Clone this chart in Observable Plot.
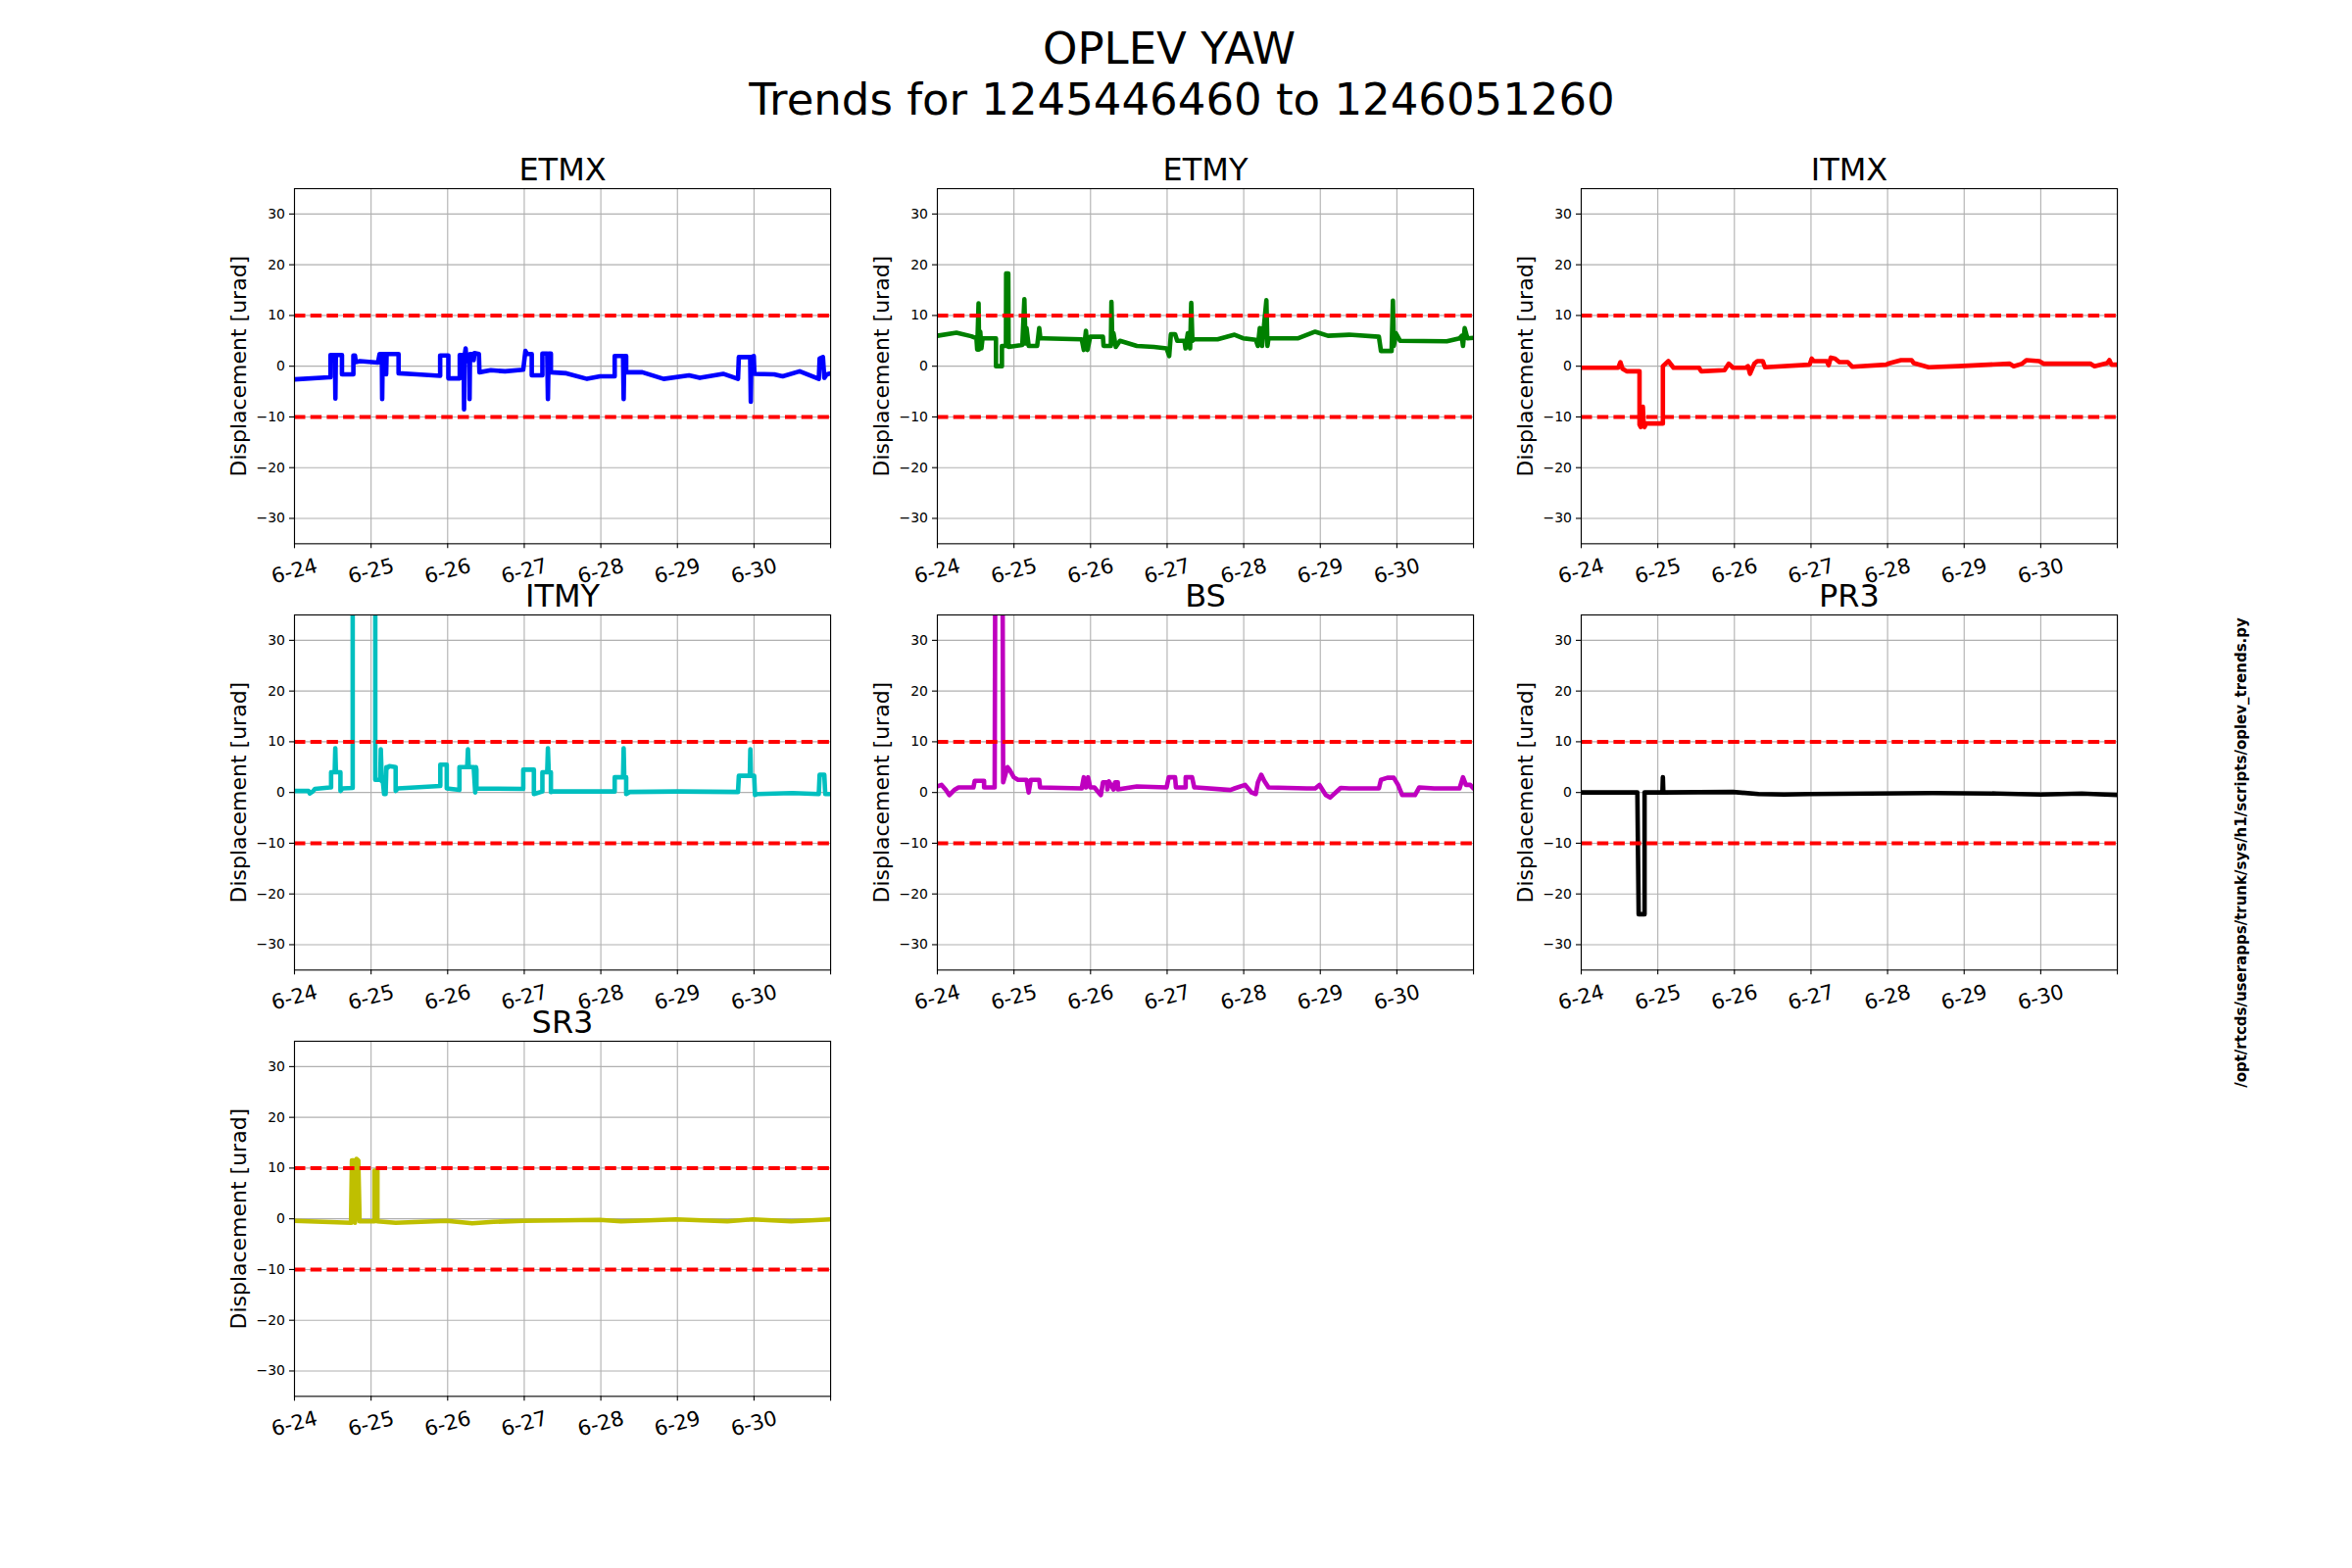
<!DOCTYPE html>
<html>
<head>
<meta charset="utf-8">
<script src="https://cdn.jsdelivr.net/npm/d3@7"></script>
<script src="https://cdn.jsdelivr.net/npm/@observablehq/plot@0.6"></script>
<style>
  html, body { margin: 0; padding: 0; background: #ffffff; }
  #fig { position: relative; width: 2400px; height: 1600px; background: #ffffff; font-family: "DejaVu Sans", sans-serif; overflow: hidden; }
  #fig > svg { position: absolute; }
  #side { position: absolute; white-space: nowrap; font-family: "DejaVu Sans", sans-serif; font-weight: bold; font-size: 15px; transform: translate(-50%, -50%) rotate(-90deg); }
</style>
</head>
<body>
<div id="fig"></div>
<script>
// ---------------- data ----------------
const supTitle = ["OPLEV YAW", "Trends for 1245446460 to 1246051260"];
const scriptPath = "/opt/rtcds/userapps/trunk/sys/h1/scripts/oplev_trends.py";
const yLabel = "Displacement [urad]";
const channels = ["ETMX", "ETMY", "ITMX", "ITMY", "BS", "PR3", "SR3"];
const xTicks = [0, 1, 2, 3, 4, 5, 6, 7];            // days from start
const xTickLabels = ["6-24", "6-25", "6-26", "6-27", "6-28", "6-29", "6-30", ""];
const yTicks = [-30, -20, -10, 0, 10, 20, 30];
const yDomain = [-35, 35];
const limits = [10, -10];

// [day, urad]
const etmx = [[0,-2.6],[0.449,-2.2],[0.47,-2.2],[0.47,2.2],[0.528,2.2],[0.534,-6.4],[0.54,2.2],[0.62,2.2],[0.62,-1.6],[0.769,-1.6],[0.769,2.1],[0.79,2.1],[0.8,0.8],[0.855,1.0],[1.09,0.7],[1.111,2.4],[1.14,2.4],[1.145,-6.5],[1.152,2.4],[1.19,2.4],[1.197,-1.6],[1.203,2.4],[1.359,2.4],[1.359,-1.4],[1.6,-1.6],[1.902,-1.9],[1.902,2.1],[2.009,2.1],[2.009,-2.4],[2.158,-2.4],[2.158,2.2],[2.21,2.2],[2.214,-8.5],[2.22,2.0],[2.235,3.5],[2.245,1.0],[2.25,2.0],[2.28,2.2],[2.286,-6.5],[2.292,2.4],[2.33,2.4],[2.34,1.2],[2.35,2.6],[2.408,2.4],[2.415,-1.2],[2.564,-0.8],[2.75,-1.0],[2.987,-0.7],[3.015,3.0],[3.04,2.4],[3.098,2.4],[3.098,-1.8],[3.237,-1.8],[3.237,2.5],[3.3,2.5],[3.309,-6.5],[3.318,2.5],[3.348,2.5],[3.348,-1.2],[3.55,-1.4],[3.82,-2.5],[3.99,-2.0],[4.181,-2.0],[4.181,2.0],[4.29,2.0],[4.298,-6.5],[4.306,2.0],[4.331,2.0],[4.331,-1.2],[4.542,-1.2],[4.82,-2.5],[5.153,-1.8],[5.292,-2.3],[5.597,-1.5],[5.791,-2.5],[5.802,1.8],[5.95,1.8],[5.958,-7.0],[5.966,1.8],[5.997,2.0],[6.005,-1.5],[6.263,-1.6],[6.374,-2.0],[6.596,-1.0],[6.846,-2.5],[6.857,1.5],[6.9,1.8],[6.918,-2.3],[6.95,-1.6],[7,-1.4]];
const etmy = [[0,6.0],[0.249,6.6],[0.443,5.9],[0.51,5.5],[0.52,3.3],[0.538,12.4],[0.545,3.3],[0.56,6.8],[0.575,3.5],[0.59,5.5],[0.765,5.5],[0.765,0],[0.843,0],[0.843,4],[0.895,4],[0.898,18.3],[0.926,18.3],[0.93,3.8],[1.109,4.2],[1.136,13.2],[1.15,4.5],[1.164,7.5],[1.192,4],[1.303,4],[1.33,7.5],[1.345,5.5],[1.386,5.5],[1.885,5.3],[1.912,3.2],[1.94,7],[1.96,3.2],[1.996,5.8],[2.162,5.8],[2.17,4],[2.265,4],[2.273,12.7],[2.285,4.5],[2.3,6.5],[2.33,3.8],[2.384,5],[2.605,4],[2.827,3.8],[2.993,3.5],[3.027,2],[3.049,6.3],[3.104,6.3],[3.132,5],[3.226,5],[3.24,3.5],[3.27,6.5],[3.3,3.5],[3.315,12.5],[3.33,5],[3.354,5.3],[3.659,5.3],[3.88,6.2],[3.991,5.5],[4.157,5.2],[4.185,4],[4.21,7.5],[4.24,4],[4.296,13],[4.31,4],[4.324,5.5],[4.712,5.5],[4.933,6.8],[5.1,6],[5.377,6.2],[5.765,5.8],[5.792,3],[5.931,3],[5.948,12.9],[5.96,4],[5.987,6.5],[6.043,5],[6.652,4.9],[6.818,5.5],[6.846,6],[6.863,4],[6.885,7.5],[6.92,5.5],[7,5.6]];
const itmx = [[0,-0.3],[0.483,-0.3],[0.511,0.8],[0.539,-0.5],[0.594,-1],[0.761,-1],[0.761,-11.5],[0.777,-12],[0.79,-11],[0.805,-8],[0.815,-11.5],[0.827,-12],[0.844,-11.3],[1.066,-11.3],[1.066,0],[1.138,1],[1.205,-0.3],[1.538,-0.3],[1.566,-1],[1.871,-0.8],[1.927,0.5],[1.982,-0.3],[2.149,-0.3],[2.177,0],[2.204,-1.5],[2.26,0.5],[2.3,1],[2.371,1],[2.399,-0.2],[2.982,0.3],[3.009,1.5],[3.037,1],[3.204,1],[3.231,0.2],[3.259,1.7],[3.315,1.5],[3.37,0.8],[3.481,0.8],[3.537,-0.1],[3.981,0.3],[4.009,0.5],[4.175,1.2],[4.314,1.2],[4.342,0.6],[4.536,-0.2],[4.925,0],[5.591,0.5],[5.647,0],[5.758,0.5],[5.813,1.2],[5.98,1],[6.035,0.5],[6.646,0.5],[6.702,0],[6.868,0.6],[6.896,1.2],[6.924,0.3],[7,0.3]];
const itmy = [[0,0.3],[0.183,0.3],[0.2,-0.2],[0.239,0.2],[0.267,0.7],[0.461,1.0],[0.478,1.0],[0.478,4.0],[0.525,4.0],[0.533,8.7],[0.541,4.0],[0.6,4.0],[0.6,0.3],[0.627,0.8],[0.76,0.9],[0.76,60],[1.055,60],[1.055,2.5],[1.12,2.5],[1.127,8.5],[1.14,2.2],[1.155,2],[1.17,-0.3],[1.19,-0.3],[1.2,5],[1.21,4.8],[1.238,5.2],[1.321,5],[1.321,0.3],[1.349,0.8],[1.904,1.3],[1.904,5.5],[1.988,5.5],[1.988,0.8],[2.154,0.5],[2.154,5.0],[2.255,5],[2.265,8.5],[2.275,5],[2.34,5],[2.36,0],[2.37,5],[2.376,4.5],[2.376,0.8],[2.987,0.7],[2.987,4.5],[3.126,4.5],[3.126,-0.3],[3.237,0.2],[3.237,4.0],[3.3,4],[3.309,8.7],[3.32,4],[3.348,4],[3.348,0.1],[3.376,0.2],[3.987,0.2],[4.181,0.2],[4.181,3.0],[4.29,3],[4.298,8.7],[4.306,3],[4.331,3],[4.331,-0.3],[4.375,0.1],[5.0,0.2],[5.791,0.1],[5.802,3.3],[5.945,3.3],[5.952,8.5],[5.96,3.3],[6.002,3.3],[6.013,-0.5],[6.041,-0.3],[6.5,-0.1],[6.846,-0.3],[6.857,3.5],[6.918,3.5],[6.93,-0.3],[7,-0.3]];
const bs = [[0,1.2],[0.055,1.5],[0.111,0.5],[0.155,-0.5],[0.222,0.5],[0.277,1.0],[0.471,1.0],[0.488,2.3],[0.61,2.3],[0.61,1.0],[0.748,1.0],[0.759,60],[0.848,60],[0.859,2.0],[0.915,5.0],[0.942,4.5],[0.998,3.0],[1.053,2.5],[1.164,2.5],[1.192,0],[1.22,2.5],[1.33,2.5],[1.341,1.0],[1.885,0.8],[1.912,3.0],[1.94,1.0],[1.968,3.0],[1.996,1.0],[2.051,1.0],[2.106,0],[2.134,-0.5],[2.162,2.0],[2.217,2.0],[2.22,0.6],[2.24,2.2],[2.3,0.6],[2.32,2],[2.356,2],[2.356,0.6],[2.605,1.2],[2.993,1.0],[3.021,3.0],[3.104,3.0],[3.115,1.0],[3.242,1.0],[3.242,3.0],[3.326,3.0],[3.354,1.0],[3.381,1.0],[3.825,0.5],[3.88,0.8],[4.019,1.5],[4.102,0],[4.157,-0.3],[4.185,2.0],[4.229,3.5],[4.268,2.3],[4.324,1.0],[4.823,0.8],[4.933,0.8],[4.989,1.5],[5.072,-0.5],[5.128,-1.0],[5.266,0.9],[5.377,0.8],[5.765,0.8],[5.792,2.5],[5.876,2.9],[5.959,2.9],[6.015,1.5],[6.07,-0.5],[6.236,-0.5],[6.292,1.0],[6.486,0.8],[6.818,0.8],[6.863,3.0],[6.901,1.5],[6.957,1.5],[7,0.8]];
const pr3 = [[0,0],[0.733,0],[0.75,-24],[0.827,-24],[0.827,0],[1.06,0],[1.066,3],[1.072,0],[1.982,0.1],[2.315,-0.3],[2.649,-0.4],[2.982,-0.3],[3.759,-0.2],[4.592,-0.1],[5.425,-0.2],[6.0,-0.4],[6.535,-0.2],[7,-0.5]];
const sr3 = [[0,-0.4],[0.738,-0.8],[0.75,11.5],[0.777,11.5],[0.79,-0.8],[0.811,11.8],[0.833,11.5],[0.85,-0.5],[1.044,-0.5],[1.044,9.5],[1.083,9.5],[1.083,-0.5],[1.321,-0.8],[1.988,-0.4],[2.321,-0.9],[2.599,-0.6],[2.987,-0.4],[3.987,-0.2],[4.264,-0.5],[4.986,-0.1],[5.652,-0.5],[5.986,-0.1],[6.485,-0.5],[7,-0.1]];
const series = [etmx, etmy, itmx, itmy, bs, pr3, sr3];

// ---------------- styling / layout ----------------
const colors = ["#0000ff", "#008000", "#ff0000", "#00bfbf", "#bf00bf", "#000000", "#bfbf00"];
const figW = 2400, figH = 1600;
const axLeft = 0.125 * figW, axRight = 0.9 * figW, axTop = 192, axBottom = 1424;
const axW = (axRight - axLeft) / 3.4, axH = (axBottom - axTop) / 3.4;
const mL = 130, mR = 14, mT = 60, mB = 80;

const fig = document.getElementById("fig");

// suptitle
const head = d3.create("svg").attr("width", figW).attr("height", 140).style("left", "0px").style("top", "0px");
head.selectAll("text").data(supTitle).join("text")
  .attr("x", (d, i) => i === 0 ? 1193 : 1206).attr("y", (d, i) => 65 + i * 51.7)
  .attr("text-anchor", "middle").attr("font-size", 45)
  .attr("font-family", "DejaVu Sans, sans-serif").attr("fill", "#000")
  .text(d => d);
fig.appendChild(head.node());

channels.forEach((name, k) => {
  const col = k % 3, row = Math.floor(k / 3);
  const x0 = axLeft + col * axW * 1.2, y0 = axTop + row * axH * 1.2;
  const data = series[k].map(([t, v]) => ({t, v}));
  const chart = Plot.plot({
    width: axW + mL + mR,
    height: axH + mT + mB,
    marginLeft: mL, marginRight: mR, marginTop: mT, marginBottom: mB,
    x: {domain: [0, 7], axis: null},
    y: {domain: yDomain, axis: null},
    style: {background: "none", overflow: "visible", fontFamily: "DejaVu Sans, sans-serif", color: "#000"},
    marks: [
      Plot.gridX(xTicks, {stroke: "#b0b0b0", strokeOpacity: 1, strokeWidth: 1.1}),
      Plot.gridY(yTicks, {stroke: "#b0b0b0", strokeOpacity: 1, strokeWidth: 1.1}),
      Plot.line(data, {x: "t", y: "v", stroke: colors[k], strokeWidth: 4.6, clip: true, strokeLinejoin: "round", strokeLinecap: "round"}),
      Plot.ruleY(limits, {stroke: "#ff0000", strokeWidth: 4, strokeDasharray: "11.5,5.2", clip: true}),
      Plot.frame({stroke: "#000", strokeWidth: 1.1}),
      Plot.axisX({ticks: xTicks, tickSize: 5, tickFormat: () => "", label: null, stroke: "#000", strokeWidth: 1.1}),
      Plot.text(xTicks, {x: d => d, text: (d, i) => xTickLabels[i], frameAnchor: "bottom", dy: 28, rotate: -15, fontSize: 21, textAnchor: "middle", lineAnchor: "middle"}),
      Plot.axisY({ticks: yTicks, tickSize: 5, tickPadding: 4.5, fontSize: 14, tickFormat: d3.format("d"), stroke: "#000", strokeWidth: 1.1, label: null}),
      Plot.text([yLabel], {frameAnchor: "left", dx: -57, rotate: -90, fontSize: 22, textAnchor: "middle", lineAnchor: "middle"}),
      Plot.text([name], {frameAnchor: "top", dy: -8.7, fontSize: 32, textAnchor: "middle", lineAnchor: "bottom"})
    ]
  });
  chart.style.left = (x0 - mL) + "px";
  chart.style.top = (y0 - mT) + "px";
  fig.appendChild(chart);
});

const side = document.createElement("div");
side.id = "side";
side.textContent = scriptPath;
side.style.left = "2287px";
side.style.top = "870px";
fig.appendChild(side);
</script>
</body>
</html>
